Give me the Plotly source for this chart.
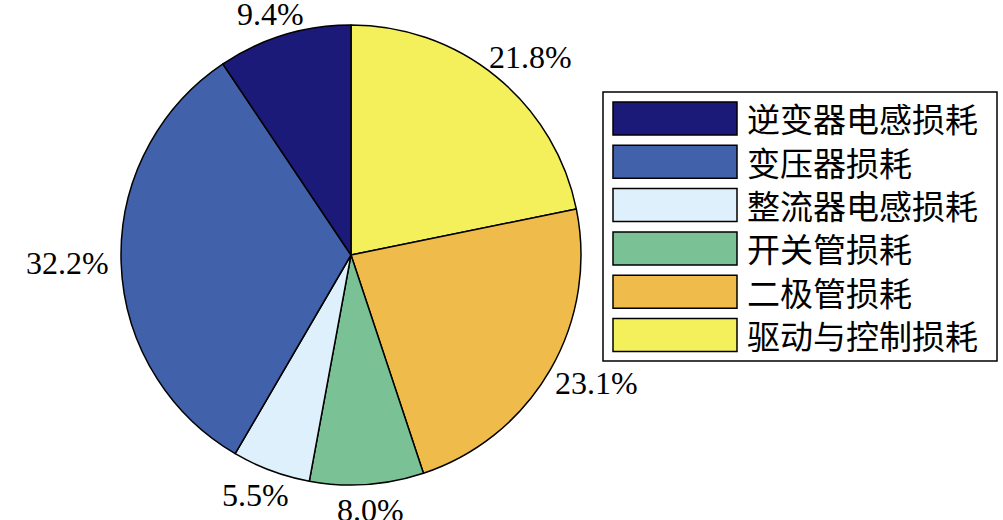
import math
import plotly.graph_objects as go

labels = ["逆变器电感损耗", "变压器损耗", "整流器电感损耗", "开关管损耗", "二极管损耗", "驱动与控制损耗"]
values = [9.4, 32.2, 5.5, 8.0, 23.1, 21.8]
colors = ["#1c1a78", "#4261ab", "#def0fb", "#7bc196", "#efbb4b", "#f4f05c"]

W, H = 1003, 520
cx, cy, r = 351, 255, 230  # pie centre / radius in pixels

# the reference runs counter-clockwise from 12 o'clock; draw it clockwise in reverse order
fig = go.Figure()
fig.add_trace(go.Pie(
    labels=labels[::-1], values=values[::-1], sort=False, direction="clockwise", rotation=0,
    marker=dict(colors=colors[::-1], line=dict(color="black", width=1.5)),
    textinfo="none", hoverinfo="label+percent", showlegend=False,
    domain=dict(x=[(cx - r) / W, (cx + r) / W], y=[(H - cy - r) / H, (H - cy + r) / H]),
))

# percentage labels around the pie (MATLAB-like placement)
fs = 32
def text_w(s):
    w = 0
    for ch in s:
        w += 0.25 if ch == "." else (0.833 if ch == "%" else 0.5)
    return w * fs

total = sum(values)
start = 90.0
ann = []
R0 = 1.055 * r
for v in values:
    span = v / total * 360
    mid = math.radians(start + span / 2)
    start += span
    s = f"{v:.1f}%"
    w, h = text_w(s), 26
    px = cx + (R0 + w / 2) * math.cos(mid)
    py = cy - (R0 + h / 2) * math.sin(mid)
    py = max(py, h / 2 + 1)
    ann.append(dict(x=px / W, y=1 - py / H, xref="paper", yref="paper", text=s, showarrow=False,
                    xanchor="center", yanchor="middle",
                    font=dict(family="Liberation Serif, Times New Roman, serif", size=fs, color="black")))

# custom legend
shapes = []
lx0, lx1, ly0, ly1 = 603, 997, 92, 361
shapes.append(dict(type="rect", xref="paper", yref="paper", x0=lx0 / W, x1=lx1 / W,
                   y0=1 - ly1 / H, y1=1 - ly0 / H, line=dict(color="black", width=1.5),
                   fillcolor="white", layer="below"))
pitch = 43.3
for i, (lab, col) in enumerate(zip(labels, colors)):
    top = 102 + i * pitch
    bot = top + 33
    shapes.append(dict(type="rect", xref="paper", yref="paper", x0=613 / W, x1=737 / W,
                       y0=1 - bot / H, y1=1 - top / H, line=dict(color="black", width=1.5),
                       fillcolor=col))
    ann.append(dict(x=745 / W, y=1 - (top + 16.5) / H, xref="paper", yref="paper", text=lab,
                    showarrow=False, xanchor="left", yanchor="middle",
                    font=dict(family="Noto Sans CJK SC", size=33, color="black")))

fig.update_layout(
    width=W, height=H, margin=dict(l=0, r=0, t=0, b=0),
    paper_bgcolor="white", plot_bgcolor="white",
    annotations=ann, shapes=shapes,
)
fig.write_html("out.html")
